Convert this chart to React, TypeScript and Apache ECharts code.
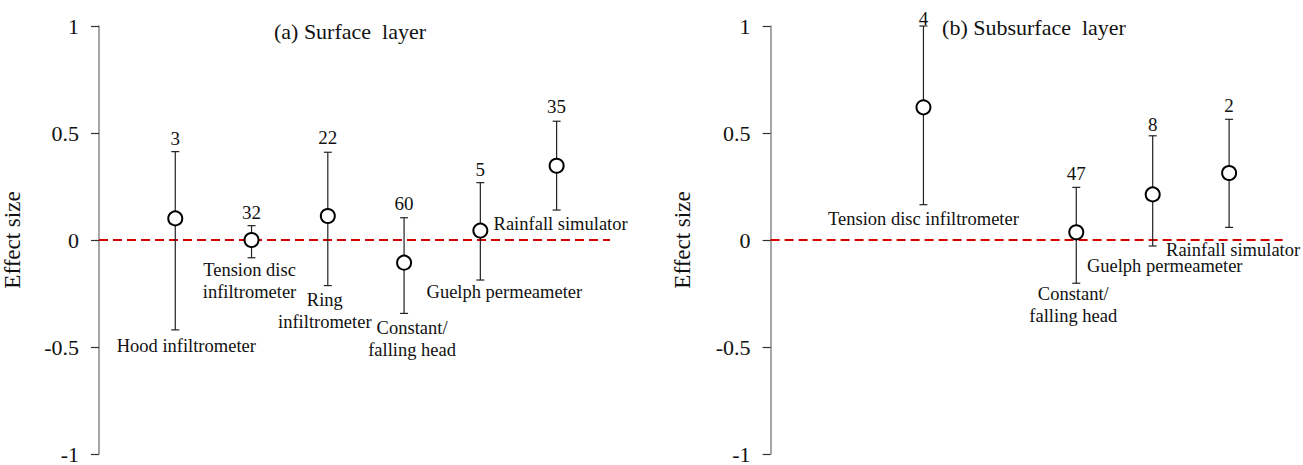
import React, { useEffect, useRef } from "react";
import * as echarts from "echarts";

// ---- Data ----
const surfaceCategories = [
  "Hood infiltrometer",
  "Tension disc\ninfiltrometer",
  "Ring\ninfiltrometer",
  "Constant/\nfalling head",
  "Guelph permeameter",
  "Rainfall simulator",
];
const surfaceX = [1, 2, 3, 4, 5, 6];
const surfaceMean = [0.101, 0.0, 0.112, -0.106, 0.044, 0.347];
const surfaceLow = [-0.42, -0.083, -0.213, -0.343, -0.187, 0.14];
const surfaceHigh = [0.413, 0.067, 0.41, 0.104, 0.268, 0.555];
const surfaceN = [3, 32, 22, 60, 5, 35];

const subsurfaceCategories = [
  "Tension disc infiltrometer",
  "Constant/\nfalling head",
  "Guelph permeameter",
  "Rainfall simulator",
];
const subsurfaceX = [2, 4, 5, 6];
const subsurfaceMean = [0.62, 0.036, 0.213, 0.313];
const subsurfaceLow = [0.165, -0.202, -0.028, 0.059];
const subsurfaceHigh = [1.0, 0.246, 0.487, 0.564];
const subsurfaceN = [4, 47, 8, 2];

const yTicks = [-1, -0.5, 0, 0.5, 1];

// ---- Label layout (pixel offsets, styling only) ----
const surfaceLabelOffset = [
  [11, 16],
  [-2, 23],
  [-3, 25],
  [8, 26],
  [24, 12],
  [4, 14],
];
const surfaceCountOffset = [-13.5, -13.5, -15, -14, -13, -14.5];
const subsurfaceLabelOffset = [
  [0, 14],
  [-3, 22],
  [12, 20],
  [4, 23],
];
const subsurfaceCountOffset = [-8, -13.5, -11, -13.5];

const FONT = "Liberation Serif, Times New Roman, serif";

function makePanel(
  idx: number,
  cats: string[],
  xs: number[],
  mean: number[],
  low: number[],
  high: number[],
  ns: number[],
  labelOff: number[][],
  countOff: number[]
) {
  const errData = xs.map((x, i) => [x, low[i], high[i]]);
  const ptData = xs.map((x, i) => [x, mean[i]]);
  return [
    {
      type: "custom",
      xAxisIndex: idx,
      yAxisIndex: idx,
      z: 2,
      data: errData,
      renderItem: (params: any, api: any) => {
        const i = params.dataIndex;
        const x = api.value(0);
        const pLo = api.coord([x, api.value(1)]);
        const pHi = api.coord([x, api.value(2)]);
        const st = { stroke: "#222", lineWidth: 1.2 };
        const cap = 4;
        return {
          type: "group",
          children: [
            { type: "line", shape: { x1: pLo[0], y1: pLo[1], x2: pHi[0], y2: pHi[1] }, style: st },
            { type: "line", shape: { x1: pLo[0] - cap, y1: pLo[1], x2: pLo[0] + cap, y2: pLo[1] }, style: st },
            { type: "line", shape: { x1: pHi[0] - cap, y1: pHi[1], x2: pHi[0] + cap, y2: pHi[1] }, style: st },
            {
              type: "text",
              x: pHi[0],
              y: pHi[1] + countOff[i],
              style: {
                text: String(ns[i]),
                fill: "#111",
                fontSize: 19,
                fontFamily: FONT,
                align: "center",
                verticalAlign: "middle",
              },
            },
            {
              type: "text",
              x: pLo[0] + labelOff[i][0],
              y: pLo[1] + labelOff[i][1],
              style: {
                text: cats[i],
                fill: "#111",
                fontSize: 18.5,
                lineHeight: 22,
                fontFamily: FONT,
                align: "center",
                verticalAlign: "middle",
              },
            },
          ],
        };
      },
    },
    {
      type: "scatter",
      xAxisIndex: idx,
      yAxisIndex: idx,
      z: 5,
      data: ptData,
      symbol: "circle",
      symbolSize: 14,
      itemStyle: { color: "#fff", borderColor: "#000", borderWidth: 2, opacity: 1 },
      markLine: {
        silent: true,
        symbol: "none",
        label: { show: false },
        lineStyle: { color: "#d40000", type: [9, 5], width: 2 },
        data: [{ yAxis: 0 }],
        z: 1,
      },
    },
  ];
}

export default function App() {
  const ref = useRef<HTMLDivElement>(null);
  useEffect(() => {
    document.body.style.margin = "0";
    if (!ref.current) return;
    const chart = echarts.init(ref.current, undefined, { renderer: "svg" });
    const yAxisBase = (gi: number, gap: number) => ({
      type: "value",
      gridIndex: gi,
      min: yTicks[0],
      max: yTicks[yTicks.length - 1],
      interval: 0.5,
      name: "Effect size",
      nameLocation: "middle",
      nameGap: gap,
      nameTextStyle: { fontSize: 23, fontFamily: FONT, color: "#111" },
      axisLine: { show: true, lineStyle: { color: "#888", width: 1.5 } },
      axisTick: { show: true, length: 8, lineStyle: { color: "#333", width: 1.2 } },
      axisLabel: { fontSize: 22, fontFamily: FONT, color: "#111", margin: 20 },
      splitLine: { show: false },
    });
    const xAxisBase = (gi: number) => ({
      type: "value",
      gridIndex: gi,
      min: 0,
      max: 6.7,
      show: false,
    });
    chart.setOption({
      animation: false,
      grid: [
        { left: 98, top: 26, width: 512, height: 428 },
        { left: 770.6, top: 26, width: 512, height: 428 },
      ],
      xAxis: [xAxisBase(0), xAxisBase(1)],
      yAxis: [yAxisBase(0, 75), yAxisBase(1, 77)],
      graphic: [
        {
          type: "text",
          x: 350,
          y: 31.5,
          style: {
            text: "(a) Surface  layer",
            fontSize: 22,
            fontFamily: FONT,
            fill: "#111",
            align: "center",
            verticalAlign: "middle",
          },
        },
        {
          type: "text",
          x: 1034,
          y: 27,
          style: {
            text: "(b) Subsurface  layer",
            fontSize: 22,
            fontFamily: FONT,
            fill: "#111",
            align: "center",
            verticalAlign: "middle",
          },
        },
      ],
      series: [
        ...makePanel(0, surfaceCategories, surfaceX, surfaceMean, surfaceLow, surfaceHigh, surfaceN, surfaceLabelOffset, surfaceCountOffset),
        ...makePanel(1, subsurfaceCategories, subsurfaceX, subsurfaceMean, subsurfaceLow, subsurfaceHigh, subsurfaceN, subsurfaceLabelOffset, subsurfaceCountOffset),
      ],
    });
    return () => chart.dispose();
  }, []);
  return <div ref={ref} style={{ width: 1303, height: 465 }} />;
}
